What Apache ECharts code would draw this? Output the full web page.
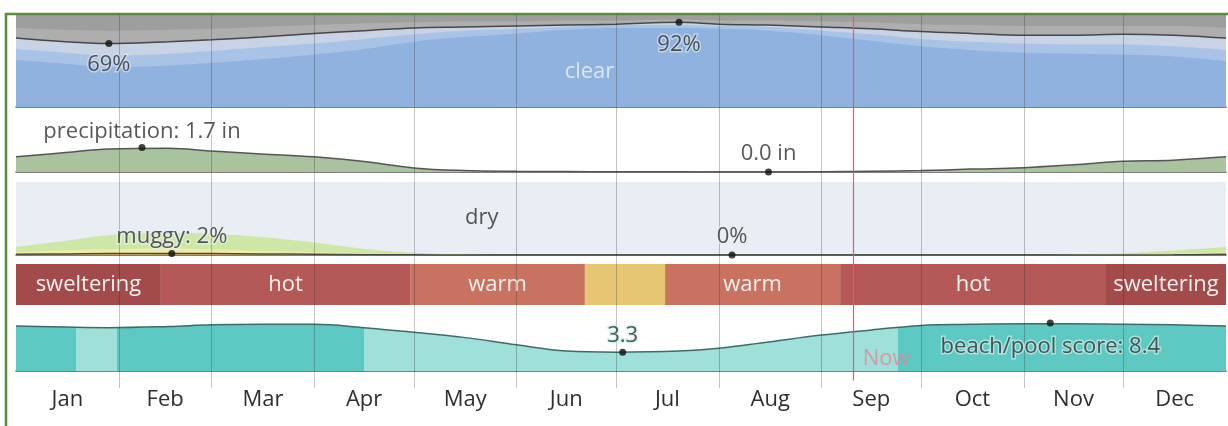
<!DOCTYPE html>
<html>
<head>
<meta charset="utf-8">
<script src="https://cdn.jsdelivr.net/npm/echarts@6/dist/echarts.min.js"></script>
<style>
html, body { margin: 0; padding: 0; background: #fff; }
#chart { width: 1228px; height: 426px; }
</style>
</head>
<body>
<div id="chart"></div>
<script>
// day of year for each sample point
const days = [0, 15, 28, 46, 59, 74, 90, 105, 120, 135, 151, 166, 181, 200, 212, 227, 243, 258, 273, 288, 304, 319, 334, 349, 365];

// cloud cover, % of time (bottom -> top)
const clear        = [51, 47, 43, 45, 48, 52, 57, 63, 71, 76, 80, 84, 86, 86, 85, 83, 78, 72, 66, 62, 59, 58, 57, 55, 50];
const mostlyClear  = [12, 12, 13, 13, 13, 13, 12, 11, 8, 7, 5, 3, 3, 3, 3, 4, 5, 7, 8, 9, 10, 10, 11, 11, 12];
const partlyCloudy = [12, 12, 13, 13, 12, 11, 11, 9, 7, 4, 3, 2, 1, 3, 2, 2, 4, 6, 8, 9, 9, 10, 11, 12, 13];
const mostlyCloudy = [11, 13, 14, 13, 12, 11, 9, 8, 6, 6, 5, 5, 4, 3, 4, 5, 6, 7, 8, 9, 10, 10, 9, 10, 11];
const overcast     = [14, 16, 17, 16, 15, 13, 11, 9, 8, 7, 7, 6, 6, 5, 6, 6, 7, 8, 10, 11, 12, 12, 12, 12, 14];

// monthly rainfall, inches
const precipitation = [1.05, 1.35, 1.6, 1.65, 1.45, 1.25, 1.05, 0.72, 0.28, 0.1, 0.05, 0.03, 0.02, 0.01, 0.0, 0.0, 0.02, 0.05, 0.1, 0.2, 0.3, 0.5, 0.75, 0.82, 1.05];

// humidity comfort, % of time (bottom -> top)
const muggy       = [1, 1.5, 2, 2, 2, 1.5, 1, 0.5, 0.2, 0, 0, 0, 0, 0, 0, 0, 0, 0, 0, 0, 0, 0, 0, 0.3, 1];
const humid       = [3, 5, 6, 7, 6, 4, 3, 1, 0.5, 0, 0, 0, 0, 0, 0, 0, 0, 0, 0, 0, 0, 0, 0.5, 1, 3];
const comfortable = [7, 13, 19, 21, 21, 19, 13, 7, 2.5, 1, 0, 0, 0, 0, 0, 0, 0, 0, 0, 0, 0, 1, 2, 5, 7];

// beach / pool score, 0-10
const beachScore = [7.9, 7.7, 7.6, 7.8, 8.1, 8.2, 8.2, 7.6, 6.8, 5.9, 4.6, 3.5, 3.3, 3.5, 4.0, 5.1, 6.3, 7.2, 8.0, 8.2, 8.3, 8.3, 8.2, 8.1, 7.9];
const beachTierEdges = [0, 18, 30.5, 105, 266, 365];
const beachTiers = ['good', 'fair', 'good', 'fair', 'good'];

// temperature bands
const bandEdges = [0, 43.7, 118.9, 171.6, 195.8, 248.6, 328.8, 365];
const bandKinds = ['sweltering', 'hot', 'warm', 'mild', 'warm', 'hot', 'sweltering'];

// highlighted points [day, value]
const cloudMarks = [[28, 69], [200, 92]];
const precipMarks = [[38, 1.7], [227, 0.0]];
const muggyMarks = [[47, 2], [216, 0]];
const beachMarks = [[183, 3.3], [312, 8.4]];

const months = ['Jan', 'Feb', 'Mar', 'Apr', 'May', 'Jun', 'Jul', 'Aug', 'Sep', 'Oct', 'Nov', 'Dec'];
const monthStarts = [0, 31, 59, 90, 120, 151, 181, 212, 243, 273, 304, 334, 365];
const nowDay = 252.5;

const FONT = '"Open Sans", sans-serif';
const FS = 22;
const TEXT = '#2e2e2e';
const bandColors = { sweltering: '#a34a4a', hot: '#b45858', warm: '#c9725f', mild: '#e6c573' };
const tierColors = { good: '#5ec9c2', fair: '#9fe0da' };

const monthMids = months.map((m, i) => (monthStarts[i] + monthStarts[i + 1]) / 2);

// running totals so each layer can be drawn as its own area from the bottom
function cumulative(layers) {
    let acc = days.map(() => 0);
    return layers.map((vals) => {
        acc = acc.map((a, i) => a + vals[i]);
        return acc;
    });
}

const chart = echarts.init(document.getElementById('chart'), null, { renderer: 'canvas' });

const L = 16, R = 2;
const grids = [
    { left: L, right: R, top: 15, height: 92 },   // sky
    { left: L, right: R, top: 107, height: 65 },  // precipitation
    { left: L, right: R, top: 182, height: 73, show: true, backgroundColor: '#e9eef4', borderWidth: 0 }, // humidity
    { left: L, right: R, top: 264, height: 41 },  // temperature
    { left: L, right: R, top: 314, height: 57 },  // beach score
    { left: L, right: R, top: 14, height: 374 }   // month grid overlay
];

function xAxisFor(gridIndex, showLine) {
    return {
        type: 'value', gridIndex, min: 0, max: 365,
        axisLine: { show: showLine, onZero: false, lineStyle: { color: '#555', width: 1.5 } },
        axisTick: { show: false }, axisLabel: { show: false }, splitLine: { show: false }
    };
}
function yAxisFor(gridIndex, max) {
    return { type: 'value', gridIndex, min: 0, max, show: false };
}

const xAxes = [xAxisFor(0, true), xAxisFor(1, true), xAxisFor(2, true), xAxisFor(3, false), xAxisFor(4, true), xAxisFor(5, false)];
xAxes[5].axisLabel = {
    show: true, customValues: monthMids, margin: 1,
    color: TEXT, fontSize: FS, fontFamily: FONT,
    formatter: (v) => months[monthMids.indexOf(v)]
};
const yAxes = [yAxisFor(0, 100), yAxisFor(1, 4.5), yAxisFor(2, 100), yAxisFor(3, 1), yAxisFor(4, 10), yAxisFor(5, 1)];

const series = [];

function area(grid, vals, color, line) {
    return {
        type: 'line', xAxisIndex: grid, yAxisIndex: grid, smooth: 0.4, showSymbol: false, silent: true,
        data: days.map((d, i) => [d, vals[i]]),
        lineStyle: line ? { color: line, width: 1.5 } : { width: 0 },
        areaStyle: { color, opacity: 1 }
    };
}

// plain text placed in a panel's own coordinates
function note(grid, x, y, text, color, extra) {
    return {
        type: 'scatter', xAxisIndex: grid, yAxisIndex: grid, z: 6, silent: true,
        symbolSize: 1, itemStyle: { color: 'rgba(0,0,0,0)' },
        data: [[x, y]],
        label: Object.assign({ show: true, position: 'inside', formatter: text, color, fontSize: FS, fontFamily: FONT }, extra || {})
    };
}

// sky: top layer first so lower layers paint over it
const sky = cumulative([clear, mostlyClear, partlyCloudy, mostlyCloudy, overcast]);
series.push(area(0, sky[4], '#9e9e9e'));
series.push(area(0, sky[3], '#aeaeae'));
series.push(area(0, sky[2], '#c8d4e6', '#474747'));
series.push(area(0, sky[1], '#a9c3e6'));
series.push(area(0, sky[0], '#8fb2de'));
series.push(note(0, 173, 38, 'clear', 'rgba(255,255,255,0.85)'));

// precipitation
series.push(area(1, precipitation, '#a9c39f', '#555'));

// humidity
const hum = cumulative([muggy, humid, comfortable]);
series.push(area(2, hum[2], '#cde8a6'));
series.push(area(2, hum[1], '#efeca6'));
series.push(area(2, hum[0], '#d9b26a', '#4a4a40'));
series.push(note(2, 140.5, 51, 'dry', TEXT));

// temperature bands
series.push({
    type: 'line', xAxisIndex: 3, yAxisIndex: 3, data: [[0, 0]], showSymbol: false, silent: true,
    lineStyle: { width: 0 },
    markArea: {
        silent: true,
        label: { show: true, position: 'inside', color: '#fbf2f2', fontSize: FS, fontFamily: FONT },
        data: bandKinds.map((k, i) => [
            { xAxis: bandEdges[i], name: k === 'mild' ? '' : k, itemStyle: { color: bandColors[k], opacity: 1 } },
            { xAxis: bandEdges[i + 1] }
        ])
    }
});

// beach score
const beachIdx = series.length;
series.push({
    type: 'line', xAxisIndex: 4, yAxisIndex: 4, smooth: 0.4, showSymbol: false, silent: true,
    data: days.map((d, i) => [d, beachScore[i]]),
    lineStyle: { color: '#3d6c68', width: 1.5 },
    areaStyle: { opacity: 1 }
});
series.push(note(4, nowDay + 10, 2.2, 'Now', '#dc8a92'));

// month grid + now line on top
series.push({
    type: 'line', xAxisIndex: 5, yAxisIndex: 5, data: [[0, 0]], showSymbol: false, silent: true, z: 5,
    lineStyle: { width: 0 },
    markLine: {
        silent: true, symbol: 'none', label: { show: false },
        lineStyle: { color: 'rgba(40,40,40,0.28)', width: 1, type: 'solid' },
        data: monthStarts.slice(1, -1).map((d) => ({ xAxis: d }))
            .concat([[{ coord: [nowDay, 0.02], lineStyle: { color: '#e85a6a', width: 1.2 } }, { coord: [nowDay, 1] }]])
    }
});

// highlighted points
function markSeries(grid, marks, texts, positions, distances, halo) {
    return {
        type: 'scatter', xAxisIndex: grid, yAxisIndex: grid, z: 7, silent: true,
        symbolSize: 7, itemStyle: { color: '#111' },
        data: marks.map((m, i) => ({
            value: m,
            label: {
                show: true, formatter: texts[i], position: positions[i], distance: distances[i],
                color: TEXT, fontSize: FS, fontFamily: FONT,
                textBorderColor: halo, textBorderWidth: 3
            }
        }))
    };
}
series.push(markSeries(0, cloudMarks, cloudMarks.map((m) => m[1] + '%'), ['bottom', 'bottom'], [7, 8], 'rgba(215,228,245,0.85)'));
series.push(markSeries(1, precipMarks, ['precipitation: ' + precipMarks[0][1] + ' in', precipMarks[1][1].toFixed(1) + ' in'], ['top', 'top'], [1, 4], 'rgba(255,255,255,0.8)'));
series.push(markSeries(2, muggyMarks, ['muggy: ' + muggyMarks[0][1] + '%', muggyMarks[1][1] + '%'], ['top', 'top'], [2, 4], 'rgba(235,240,246,0.8)'));
series.push(markSeries(4, beachMarks, [String(beachMarks[0][1]), 'beach/pool score: ' + beachMarks[1][1]], ['top', 'bottom'], [2, 9], 'rgba(200,240,236,0.85)'));

chart.setOption({
    backgroundColor: '#fff',
    animation: false,
    textStyle: { fontFamily: FONT },
    grid: grids,
    xAxis: xAxes,
    yAxis: yAxes,
    visualMap: [{
        show: false, type: 'piecewise', seriesIndex: beachIdx, dimension: 0,
        pieces: beachTiers.map((t, i) => ({ gte: beachTierEdges[i], lt: beachTierEdges[i + 1] + (i === beachTiers.length - 1 ? 1 : 0), color: tierColors[t] }))
    }],
    graphic: [{
        type: 'rect', z: 100, silent: true,
        shape: { x: 6, y: 14, width: 1240, height: 440 },
        style: { fill: 'none', stroke: '#5b8c3b', lineWidth: 2.5 }
    }],
    series
});
</script>
</body>
</html>
